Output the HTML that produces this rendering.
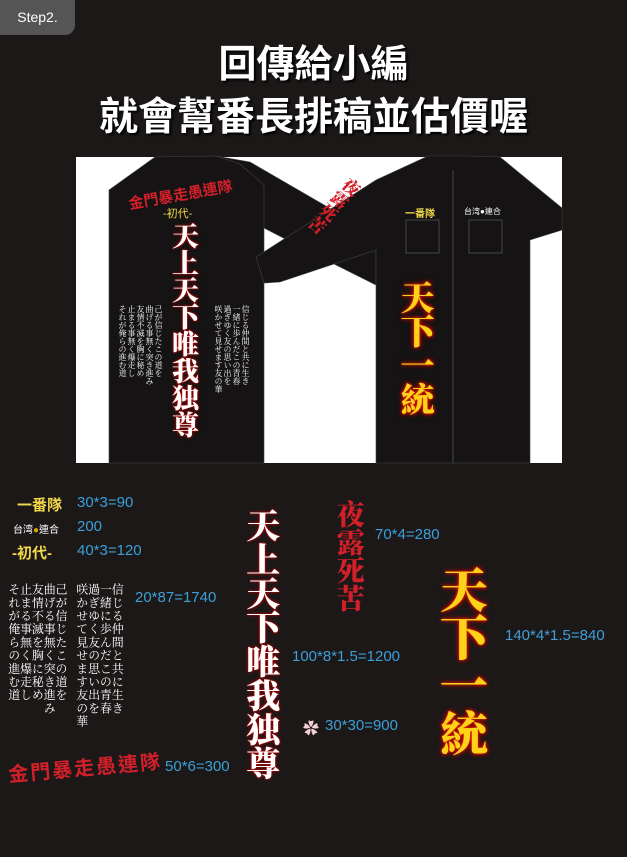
<!DOCTYPE html>
<html><head><meta charset="utf-8"><style>
body{margin:0;width:627px;height:857px;overflow:hidden;background:#1c1818;position:relative;font-family:"Liberation Sans","Noto Sans CJK TC",sans-serif}
.a{position:absolute;white-space:nowrap}
.v{position:absolute;writing-mode:vertical-rl;font-family:"Noto Serif CJK SC","Noto Sans CJK TC",serif;font-weight:900}
.blue{position:absolute;color:#3c9fd8;font-size:15px;white-space:nowrap}
.white{color:#fff;text-shadow:0 0 2px #c00,0 0 3px #900}
.gold{color:#ffd21a;text-shadow:0 0 2px #e63000,0 0 4px #c00,0 0 6px #a00}
.red{color:#d2202a}
.yel{color:#f0d84a}
.poem{position:absolute;writing-mode:vertical-rl;color:#fff;font-family:"Noto Serif CJK SC",serif;white-space:nowrap}
</style></head><body>
<div class="a" style="left:0;top:0;width:75px;height:35px;background:#555;border-radius:0 0 10px 0;color:#fff;font-size:14px;line-height:35px;text-align:center">Step2.</div>
<div class="a" style="left:0;width:627px;text-align:center;top:33px;font-size:38px;font-weight:bold;color:#fff;text-shadow:2px 2px 2px #000">回傳給小編</div>
<div class="a" style="left:0;width:627px;text-align:center;top:86px;font-size:39px;font-weight:bold;color:#fff;text-shadow:2px 2px 2px #000">就會幫番長排稿並估價喔</div>

<svg class="a" style="left:0;top:0" width="627" height="857">
<rect x="76" y="157" width="486" height="306" fill="#fff"/>
<g fill="#151313" stroke="#444" stroke-width="0.6">
<polygon points="216,156 250,162 376,235 376,285 330,262 264,228"/>
<polygon points="155,157 216,156 240,164 264,185 264,463 109,463 109,190"/>
<polygon points="428,156 470,156 500,157 562,208 562,230 530,240 530,463 376,463 376,250 280,282 264,283 256,257 376,180"/>
</g>
<g fill="none" stroke="#555" stroke-width="0.8">
<rect x="406" y="220" width="33" height="33"/><rect x="469" y="220" width="33" height="33"/>
<line x1="453" y1="170" x2="453" y2="463"/>
</g>
</svg>

<div class="a red" style="left:128px;top:184px;font-size:15px;font-weight:bold;transform:rotate(-10deg)">金門暴走愚連隊</div>
<div class="a yel" style="left:163px;top:205px;font-size:11px">-初代-</div>
<div class="v white" style="left:172px;top:222px;font-size:27px;line-height:1">天上天下唯我独尊</div>
<div class="poem" style="left:118px;top:305px;font-size:8px;line-height:9px">己が信じたこの道を<br>曲げる事無く突き進み<br>友情不滅を胸に秘め<br>止まる事無く爆走し<br>それが俺らの進む道</div>
<div class="poem" style="left:214px;top:305px;font-size:8px;line-height:9px">信じる仲間と共に生き<br>一緒に歩んだこの青春<br>過ぎゆく友の思い出を<br>咲かせて見せます友の華</div>
<div class="v red" style="left:326px;top:172px;font-size:17px;line-height:1;transform:rotate(42deg)">夜露死苦</div>
<div class="a yel" style="left:405px;top:205px;font-size:10px;font-weight:bold">一番隊</div>
<div class="a" style="left:464px;top:206px;font-size:8px;color:#fff">台湾●連合</div>
<div class="v gold" style="left:400px;top:280px;font-size:34px;line-height:1">天下一統</div>

<div class="a yel" style="left:17px;top:494px;font-size:15px;font-weight:bold">一番隊</div>
<div class="blue" style="left:77px;top:494px">30*3=90</div>
<div class="a" style="left:13px;top:521px;font-size:10px;color:#fff">台湾<span style="color:#d9a400">●</span>連合</div>
<div class="blue" style="left:77px;top:518px">200</div>
<div class="a yel" style="left:12px;top:542px;font-size:15px;font-weight:bold">-初代-</div>
<div class="blue" style="left:77px;top:542px">40*3=120</div>
<div class="poem" style="left:8px;top:583px;font-size:12px;line-height:11.8px;letter-spacing:1.2px">己が信じたこの道を<br>曲げる事無く突き進み<br>友情不滅を胸に秘め<br>止まる事無く爆走し<br>それが俺らの進む道</div>
<div class="poem" style="left:76px;top:583px;font-size:12px;line-height:11.8px;letter-spacing:1.2px">信じる仲間と共に生き<br>一緒に歩んだこの青春<br>過ぎゆく友の思い出を<br>咲かせて見せます友の華</div>
<div class="blue" style="left:135px;top:589px">20*87=1740</div>
<div class="a red" style="left:8px;top:752px;font-size:20px;letter-spacing:2px;font-weight:bold;transform:rotate(-5deg)">金門暴走愚連隊</div>
<div class="blue" style="left:165px;top:758px">50*6=300</div>
<div class="v white" style="left:244px;top:508px;font-size:34px;line-height:1.08">天上天下唯我独尊</div>
<div class="v red" style="left:335px;top:500px;font-size:28px;line-height:1.1">夜露死苦</div>
<div class="blue" style="left:375px;top:526px">70*4=280</div>
<div class="blue" style="left:292px;top:648px">100*8*1.5=1200</div>
<div class="a" style="left:303px;top:715px;font-size:16px;color:#f4d0d6">✿</div>
<div class="blue" style="left:325px;top:717px">30*30=900</div>
<div class="v gold" style="left:438px;top:565px;font-size:48px;line-height:1.05">天下一統</div>
<div class="blue" style="left:505px;top:627px">140*4*1.5=840</div>
</body></html>
